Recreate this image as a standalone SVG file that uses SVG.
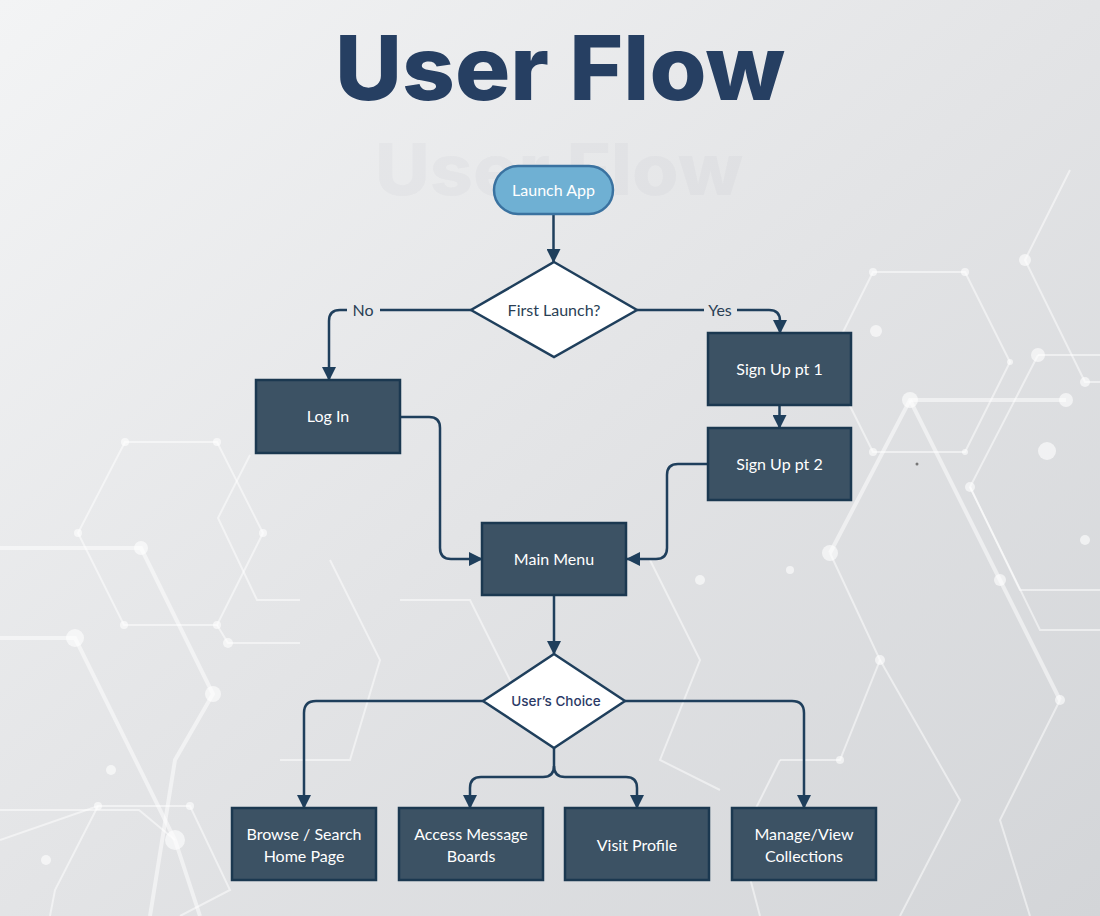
<svg xmlns="http://www.w3.org/2000/svg" width="1100" height="916" viewBox="0 0 1100 916">
  <defs>
    <linearGradient id="bg" x1="0" y1="0" x2="1" y2="1">
      <stop offset="0" stop-color="#f3f4f5"/>
      <stop offset="0.5" stop-color="#e3e4e6"/>
      <stop offset="1" stop-color="#d3d5d8"/>
    </linearGradient>
    <marker id="arr" viewBox="0 0 14 14" refX="13" refY="7" markerWidth="14" markerHeight="14" markerUnits="userSpaceOnUse" orient="auto">
      <path d="M0,0 L14,7 L0,14 z" fill="#1f3f5c"/>
    </marker>
    <style>
      .hex { fill: none; stroke: #ffffff; stroke-opacity: 0.5; stroke-width: 2; }
      .hexb { fill: none; stroke: #ffffff; stroke-opacity: 0.5; stroke-width: 4; }
      .dot { fill: #ffffff; fill-opacity: 0.6; }
      .box { fill: #3c5264; stroke: #1b3850; stroke-width: 2.5; }
      .lbl { font-family: Lato, "Liberation Sans", sans-serif; font-size: 16px; fill: #ffffff; text-anchor: middle; }
      .dtxt { font-family: Lato, "Liberation Sans", sans-serif; font-size: 16px; fill: #2a3f55; text-anchor: middle; }
      .con { fill: none; stroke: #1f3f5c; stroke-width: 2.5; }
      .dia { fill: #ffffff; stroke: #1f3f5c; stroke-width: 2.5; }
    </style>
  </defs>

  <rect x="0" y="0" width="1100" height="916" fill="url(#bg)"/>

  <!-- decorative background -->
  <g id="background">
    <polygon class="hex" points="873,272 965,272 1010,362 965,452 873,452 828,362"/>
    <polyline class="hexb" points="1066,400 910,400 830,553"/>
    <polyline class="hex" points="1038,355 970,487 1020,590 1100,590"/>
    <polyline class="hex" points="1070,170 1025,260 1085,382 1100,382"/>
    <polyline class="hex" points="1038,355 1100,355"/>
    <polyline class="hex" points="830,553 880,660 840,760 780,760"/>
    <polyline class="hexb" points="910,400 1000,580 1060,700"/>
    <polyline class="hex" points="970,487 1040,630 1100,630"/>
    <polyline class="hex" points="1060,700 1000,820 1030,916"/>
    <polyline class="hex" points="880,660 960,800 900,916"/>
    <polyline class="hex" points="780,760 740,840 760,916"/>
    <polygon class="hex" points="125,442 217,442 263,533 217,625 124,625 78,533"/>
    <polyline class="hexb" points="0,548 141,548 213,694 175,760 150,916"/>
    <polyline class="hexb" points="0,638 75,638 175,840 200,916"/>
    <polyline class="hex" points="217,625 228,643 300,643"/>
    <polyline class="hex" points="250,455 218,518 257,600 300,600"/>
    <polyline class="hex" points="0,840 98,806 190,806 230,890 180,916"/>
    <polyline class="hex" points="98,806 55,890 50,916"/>
    <polyline class="hex" points="0,810 139,810 175,840"/>
    <polyline class="hex" points="330,560 380,660 350,760 280,760"/>
    <polyline class="hex" points="400,600 470,600 520,700"/>
    <polyline class="hex" points="650,560 700,660 660,760 720,790"/>
    <g class="dot">
      <circle cx="873" cy="272" r="4"/><circle cx="965" cy="272" r="4"/><circle cx="1010" cy="362" r="3"/>
      <circle cx="965" cy="452" r="3"/><circle cx="873" cy="452" r="4"/><circle cx="910" cy="400" r="8"/>
      <circle cx="1066" cy="400" r="7"/><circle cx="830" cy="553" r="8"/><circle cx="1038" cy="355" r="7"/>
      <circle cx="970" cy="487" r="5"/><circle cx="1025" cy="260" r="6"/><circle cx="1085" cy="382" r="5"/>
      <circle cx="1047" cy="451" r="9"/><circle cx="876" cy="331" r="6"/><circle cx="1085" cy="540" r="5"/>
      <circle cx="125" cy="442" r="4"/><circle cx="217" cy="442" r="4"/><circle cx="263" cy="533" r="4"/>
      <circle cx="217" cy="625" r="4"/><circle cx="124" cy="625" r="4"/><circle cx="78" cy="533" r="4"/>
      <circle cx="141" cy="548" r="7"/><circle cx="213" cy="694" r="8"/><circle cx="75" cy="638" r="9"/>
      <circle cx="175" cy="840" r="10"/><circle cx="98" cy="806" r="4"/><circle cx="190" cy="806" r="4"/>
      <circle cx="111" cy="770" r="5"/><circle cx="46" cy="860" r="5"/><circle cx="228" cy="643" r="5"/>
      <circle cx="840" cy="760" r="4"/><circle cx="880" cy="660" r="5"/><circle cx="790" cy="570" r="4"/>
      <circle cx="700" cy="580" r="5"/><circle cx="1000" cy="580" r="6"/><circle cx="1060" cy="700" r="5"/>
    </g>
    <circle cx="917" cy="464" r="1.5" fill="#777"/>
  </g>

  <!-- title -->
  <g id="title">
    <text x="560" y="100" text-anchor="middle" font-family="Inter, 'Liberation Sans', sans-serif" font-weight="800" font-size="89" fill="#263f62" textLength="450" lengthAdjust="spacingAndGlyphs">User Flow</text>
    <text x="559" y="195" text-anchor="middle" font-family="Inter, 'Liberation Sans', sans-serif" font-weight="800" font-size="71" fill="#8a9099" fill-opacity="0.06" textLength="368" lengthAdjust="spacingAndGlyphs">User Flow</text>
  </g>

  <!-- connectors -->
  <g id="connectors">
    <path class="con" d="M553.5,214 V262" marker-end="url(#arr)"/>
    <path class="con" d="M471,310 H380"/>
    <path class="con" d="M347,310 H340 Q329,310 329,321 V380" marker-end="url(#arr)"/>
    <path class="con" d="M637,310 H704"/>
    <path class="con" d="M737,310 H769 Q780,310 780,321 V333" marker-end="url(#arr)"/>
    <path class="con" d="M779.5,405 V428" marker-end="url(#arr)"/>
    <path class="con" d="M400,417 H429 Q440,417 440,428 V548 Q440,559 451,559 H482" marker-end="url(#arr)"/>
    <path class="con" d="M708,464 H678 Q667,464 667,475 V548 Q667,559 656,559 H627" marker-end="url(#arr)"/>
    <path class="con" d="M554,595 V654" marker-end="url(#arr)"/>
    <path class="con" d="M483,701 H316 Q304,701 304,713 V808" marker-end="url(#arr)"/>
    <path class="con" d="M625,701 H792 Q804,701 804,713 V808" marker-end="url(#arr)"/>
    <path class="con" d="M554,748 V766 Q554,777 543,777 H481 Q470,777 470,788 V808" marker-end="url(#arr)"/>
    <path class="con" d="M554,766 Q554,777 565,777 H626 Q637,777 637,788 V808" marker-end="url(#arr)"/>
    <text x="363" y="316" class="dtxt">No</text>
    <text x="720" y="316" class="dtxt">Yes</text>
  </g>

  <g id="launch">
    <rect x="494" y="166" width="119" height="48" rx="24" fill="#6fb0d3" stroke="#3a72a0" stroke-width="2.5"/>
    <text x="553.5" y="196" class="lbl">Launch App</text>
  </g>

  <g id="first-launch">
    <polygon class="dia" points="554,262 637,310 554,357 471,310"/>
    <text x="554" y="316" class="dtxt">First Launch?</text>
  </g>

  <g id="login">
    <rect class="box" x="256" y="380" width="144" height="73"/>
    <text x="328" y="422" class="lbl">Log In</text>
  </g>

  <g id="signup1">
    <rect class="box" x="708" y="333" width="143" height="72"/>
    <text x="779.5" y="375" class="lbl">Sign Up pt 1</text>
  </g>

  <g id="signup2">
    <rect class="box" x="708" y="428" width="143" height="72"/>
    <text x="779.5" y="470" class="lbl">Sign Up pt 2</text>
  </g>

  <g id="main-menu">
    <rect class="box" x="482" y="523" width="144" height="72"/>
    <text x="554" y="565" class="lbl">Main Menu</text>
  </g>

  <g id="users-choice">
    <polygon class="dia" points="554,654 625,701 554,748 483,701"/>
    <text x="556" y="706" text-anchor="middle" font-family="Inter, 'Liberation Sans', sans-serif" font-weight="500" font-size="13.5" fill="#2b3a66">User’s Choice</text>
  </g>

  <g id="browse">
    <rect class="box" x="232" y="808" width="144" height="72"/>
    <text x="304" y="840" class="lbl">Browse / Search</text>
    <text x="304" y="862" class="lbl">Home Page</text>
  </g>

  <g id="message-boards">
    <rect class="box" x="399" y="808" width="144" height="72"/>
    <text x="471" y="840" class="lbl">Access Message</text>
    <text x="471" y="862" class="lbl">Boards</text>
  </g>

  <g id="profile">
    <rect class="box" x="565" y="808" width="144" height="72"/>
    <text x="637" y="851" class="lbl">Visit Profile</text>
  </g>

  <g id="collections">
    <rect class="box" x="732" y="808" width="144" height="72"/>
    <text x="804" y="840" class="lbl">Manage/View</text>
    <text x="804" y="862" class="lbl">Collections</text>
  </g>
</svg>
